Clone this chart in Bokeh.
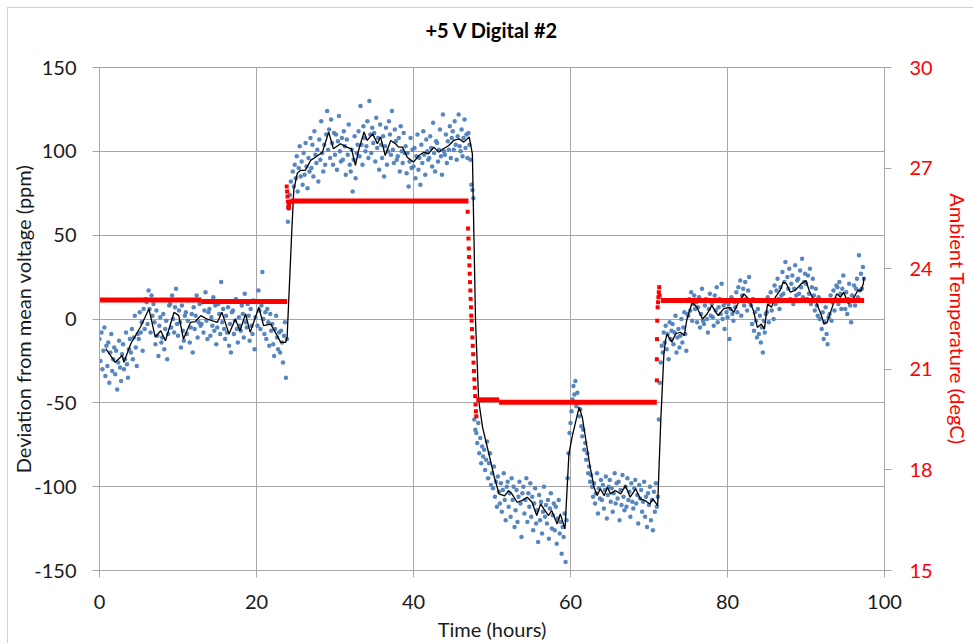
from bokeh.embed import file_html
from bokeh.models import FixedTicker, LinearAxis, PrintfTickFormatter, Range1d, Title
from bokeh.plotting import figure
from bokeh.resources import INLINE

FONT = "Lato"
GRID = "#a6a6a6"
BLUE = "#4f81bd"
RED = "#ff0000"
INK = "#1a1a1a"

TITLE = "+5 V Digital #2"
x_ticks = [0, 20, 40, 60, 80, 100]
dev_ticks = [-150, -100, -50, 0, 50, 100, 150]
temp_ticks = [15, 18, 21, 24, 27, 30]

# Deviation from mean voltage, ppm: 8 readings per hour, one hour per line
SAMPLES_PER_HOUR = 8
dev_ppm = [
    -12, -25, -8, -30, -19, -5, -34, -16,
    -28, -14, -38, -20, -9, -31, -24, -17,
    -33, -19, -42, -26, -13, -29, -37, -21,
    -15, -30, -24, -8, -27, -35, -18, -12,
    -20, -6, -24, -11, 2, -17, -28, -9,
    -12, 4, -8, -2, -19, 6, -6, 12,
    10, -3, 17, 6, -8, 14, 2, 9,
    -2, -15, 5, -10, -22, -4, 1, -14,
    -11, 3, -18, -6, -1, -24, -9, 8,
    9, -5, 14, 0, -8, 7, 18, -3,
    -10, 5, -2, -17, 8, -7, -13, 2,
    4, -9, -1, 11, -14, -5, 3, -20,
    7, -6, 2, 14, -11, -2, 9, -4,
    -3, 10, -8, 5, 16, -1, -12, 4,
    6, -10, 1, -4, 13, -7, 8, -15,
    -5, 9, 3, -9, 22, -2, 6, -6,
    -12, 2, -8, 7, -16, -3, -20, 4,
    5, -9, -1, 12, -6, -14, 1, -4,
    -7, 8, 3, -11, 15, -2, -5, 9,
    2, -13, 6, -4, -9, 11, -18, 1,
    10, -4, 17, 5, -6, 8, 28, 0,
    -9, 4, -12, 6, -2, -16, 3, -7,
    -3, -15, -22, -6, 2, -11, -18, -8,
    -20, -7, -14, -26, -10, -2, -35, -12,
    58, 66, 74, 82, 70, 88, 79, 92,
    84, 97, 76, 90, 103, 85, 94, 80,
    99, 86, 105, 91, 78, 96, 88, 108,
    90, 104, 85, 112, 98, 93, 101, 82,
    107, 95, 118, 99, 88, 104, 92, 110,
    124, 101, 113, 96, 119, 105, 92, 111,
    98, 110, 89, 106, 121, 100, 94, 108,
    95, 112, 103, 86, 107, 98, 116, 92,
    88, 101, 76, 95, 109, 84, 99, 104,
    112, 97, 127, 104, 92, 115, 108, 100,
    103, 118, 96, 130, 110, 99, 114, 105,
    111, 94, 120, 102, 108, 89, 116, 104,
    96, 109, 85, 103, 114, 92, 100, 118,
    110, 98, 124, 101, 93, 113, 106, 95,
    97, 108, 88, 115, 100, 93, 111, 99,
    103, 87, 99, 79, 94, 108, 90, 101,
    91, 102, 84, 97, 110, 89, 96, 80,
    104, 93, 112, 98, 86, 107, 100, 95,
    96, 109, 102, 91, 117, 99, 88, 106,
    105, 94, 101, 113, 97, 86, 122, 100,
    98, 110, 93, 106, 101, 115, 96, 108,
    112, 101, 118, 104, 95, 109, 122, 103,
    100, 113, 97, 108, 119, 102, 110, 96,
    111, 104, 95, 80, 77, 72, -60, -66,
    -68, -74, -62, -80, -71, -86, -76, -82,
    -78, -90, -84, -73, -95, -86, -80, -99,
    -92, -101, -88, -106, -97, -112, -94, -103,
    -110, -98, -115, -102, -92, -108, -120, -100,
    -97, -112, -104, -118, -95, -108, -100, -124,
    -114, -102, -121, -106, -97, -110, -130, -104,
    -100, -116, -108, -95, -121, -104, -112, -98,
    -118, -106, -126, -110, -101, -122, -114, -133,
    -105, -120, -109, -128, -115, -100, -118, -111,
    -122, -108, -131, -113, -104, -125, -117, -110,
    -126, -112, -134, -119, -108, -128, -121, -140,
    -124, -130, -116, -145, -120, -95, -80, -68,
    -62, -55, -48, -40, -45, -37, -52, -44,
    -50, -58, -54, -64, -70, -66, -78, -74,
    -84, -80, -92, -88, -97, -93, -100, -106,
    -98, -110, -104, -92, -116, -101, -107, -96,
    -108, -99, -113, -102, -94, -119, -105, -100,
    -96, -109, -101, -115, -104, -92, -110, -98,
    -107, -97, -120, -102, -111, -93, -106, -114,
    -100, -112, -95, -108, -103, -118, -98, -109,
    -113, -101, -96, -110, -105, -122, -99, -107,
    -102, -115, -109, -97, -118, -106, -124, -104,
    -111, -100, -120, -108, -126, -103, -115, -98,
    -112, -106, -60, -38, -26, -16, -20, -8,
    -14, -4, -18, -9, -24, -2, -12, -7,
    -3, -15, -8, 2, -20, -11, -6, -17,
    -10, 0, -14, -5, 4, -9, -19, 3,
    2, 12, 5, 16, -1, 9, 14, 6,
    10, -2, 7, 13, -5, 3, 18, -1,
    -3, 8, 12, 0, -8, 6, 15, 2,
    9, 1, -4, 14, 5, 19, -2, 7,
    12, 3, 21, 0, 8, -6, 10, 4,
    1, 9, -12, 6, 13, 3, -1, 10,
    7, 16, 4, 19, 11, 23, 2, 14,
    18, 8, 22, 12, 5, 17, 25, 10,
    8, -3, 12, -7, 4, -1, -11, 6,
    -9, 2, -14, -5, -20, -1, -8, 3,
    4, 13, -2, 10, 16, 5, 11, 0,
    20, 9, 17, 24, 12, 6, 19, 14,
    28, 15, 22, 34, 11, 25, 18, 30,
    12, 21, 26, 9, 18, 32, 14, 23,
    24, 15, 29, 19, 36, 13, 22, 27,
    21, 12, 26, 15, 30, 9, 19, 24,
    14, 5, 18, 8, 2, 13, 0, 11,
    -6, 4, -12, -2, 7, -9, -15, 1,
    3, 14, -1, 10, 17, 5, 12, 20,
    19, 9, 22, 15, 6, 18, 26, 11,
    6, 16, 3, 12, 21, 8, -2, 14,
    11, 20, 8, 18, 24, 13, 38, 17,
    27, 18, 31, 24,
]
sample_hours = [i / SAMPLES_PER_HOUR for i in range(len(dev_ppm))]

# Running mean of the deviation, ppm
trend_hours = [
    0.8, 2.0, 2.9, 3.1, 4.0, 5.2, 6.3, 7.1, 7.8, 8.4, 9.5, 10.1, 10.7, 11.6,
    12.2, 12.9, 13.7, 15.0, 15.6, 16.5, 17.3, 17.9, 18.6, 19.2, 20.3, 20.9,
    21.8, 22.4, 23.1, 23.7, 23.9, 24.5, 24.75, 25.2, 25.6, 26.2, 26.9, 27.5,
    28.4, 29.2, 29.8, 30.7, 31.5, 32.1, 32.6, 33.0, 33.7, 34.1, 34.8, 35.4,
    35.8, 36.4, 37.1, 37.7, 38.1, 38.6, 39.2, 40.0, 40.7, 41.3, 41.9, 42.6,
    43.2, 43.8, 44.5, 45.1, 45.8, 46.4, 47.1, 47.5, 47.7, 47.9, 48.3, 48.8,
    49.4, 49.8, 50.3, 50.9, 51.6, 52.1, 52.5, 53.2, 53.8, 54.5, 55.1, 55.7,
    56.2, 56.6, 57.2, 57.6, 58.3, 58.7, 59.3, 59.8, 60.2, 60.7, 61.1, 61.5,
    62.1, 62.5, 63.0, 63.4, 63.8, 64.3, 64.7, 65.1, 65.7, 66.4, 67.0, 67.6,
    68.3, 68.9, 69.5, 70.1, 70.5, 71.1, 71.5, 71.9, 72.1, 72.3, 72.9, 73.4,
    74.0, 74.5, 74.8, 75.5, 76.1, 76.8, 77.4, 78.0, 78.8, 79.5, 80.2, 80.8,
    81.4, 82.1, 82.7, 83.3, 83.8, 84.3, 84.7, 85.1, 85.6, 86.1, 86.7, 87.1,
    87.5, 88.0, 88.6, 89.0, 89.4, 90.0, 90.4, 90.8, 91.2, 91.9, 92.3, 92.7,
    93.2, 93.9, 94.4, 94.8, 95.4, 96.0, 96.6, 97.0, 97.3, 97.4,
]
trend_ppm = [
    -17.6, -25.8, -21.8, -25.8, -14.6, -4.9, 6, -10.8, -7, -13, 4, 2, -12, -2,
    -1.5, 2, 0, -2, 4, -9, 0, -7, 3, -8, 7, -4,
    -3, -8, -14, -14, -11, 53, 77, 87, 88.6, 88.6, 94.6, 96.5,
    99.5, 111.5, 101.5, 104.5, 102.5, 101.5, 91.6, 100.5, 111.5, 106.5, 110.4, 104.5,
    108.5, 97.5, 106.5, 104.5, 102.5, 102.5, 96.5, 93.6, 97.5, 99.5, 98.5, 102.5,
    99.5, 101.5, 103.5, 106.5, 107.5, 105.5, 108.5, 98.5, 49, -1, -48.6, -64.6,
    -76.5, -84.4, -94.4, -104.3, -105.5, -102.3, -104, -109.3, -108.3, -106.3, -109.3, -117.2,
    -110.3, -113.3, -117.2, -114.2, -122.2, -116.2, -125.2, -80.4, -70.5, -60.5, -52.6, -58.5,
    -76.5, -88.4, -100.3, -105.3, -101.3, -105.3, -100.3, -104.3, -102.3, -104.3, -99.3, -106.3,
    -101.3, -107.3, -108.3, -110.3, -107.3, -111.3, -60.5, -20.7, -12.8, -9, -13.8, -8.8,
    -7.9, -9.8, -0.9, 10, 7, 0, 3, 8, 2, 6, 7, 4,
    10, 15, 12, 5, -5, -3, -6, 9, 7, 13, 17, 22,
    21, 16, 17, 19, 21, 23, 17, 13, 11, 3, -3, -2,
    5, 15, 13, 16, 9, 12, 17, 17, 21, 25,
]

# Ambient temperature, degC: steady levels (start hour, end hour, value)
temp_level_start = [0.0, 13.0, 24.3, 48.0, 50.9, 71.5]
temp_level_end = [13.0, 23.9, 47.0, 50.9, 71.0, 97.4]
temp_level_degc = [23.07, 23.02, 26.02, 20.09, 20.02, 23.05]

# Ambient temperature readings taken while the chamber was changing
temp_step_hours = [
    23.85, 23.9, 23.95, 24.0, 24.05, 24.1, 24.15, 24.2,
    46.9, 46.95, 47.0, 47.04, 47.08, 47.12, 47.16, 47.2, 47.24, 47.28, 47.32, 47.36,
    47.4, 47.45, 47.5, 47.55, 47.6, 47.65, 47.7, 47.75, 47.8, 47.85, 47.9, 47.95, 48.0,
    71.0, 71.0, 71.02, 71.05, 71.1, 71.15, 71.2, 71.25, 71.3, 71.35,
]
temp_step_degc = [
    26.45, 26.3, 26.15, 26.0, 25.85, 25.8, 25.9, 26.0,
    25.7, 25.2, 24.9, 24.6, 24.35, 24.1, 23.85, 23.6, 23.35, 23.1, 22.85, 22.6,
    22.45, 22.2, 21.95, 21.7, 21.45, 21.2, 20.95, 20.7, 20.45, 20.2, 19.95, 19.75, 19.6,
    20.67, 21.3, 21.9, 22.45, 22.85, 23.0, 23.15, 23.3, 23.45, 23.2,
]

p = figure(
    width=966, height=636,
    x_range=Range1d(0, 100), y_range=Range1d(-150, 150),
    output_backend="svg", toolbar_location=None,
    min_border_left=91, min_border_right=90, min_border_top=59, min_border_bottom=74,
    title=None,
)
p.margin = (7, 0, 0, 7)
p.styles = {"border-left": "1px solid #d0d0d0", "border-top": "1px solid #d0d0d0"}
p.extra_y_ranges = {"temp": Range1d(15, 30)}
p.background_fill_color = "white"
p.border_fill_color = "white"
p.outline_line_color = GRID

# blank band between the plot area and the chart title
p.add_layout(Title(text=" ", text_font_size="17px", standoff=0), "above")
p.add_layout(Title(
    text=TITLE, align="center", text_font=FONT, text_font_size="20px",
    text_font_style="bold", text_color="black",
), "above")

temp_axis = LinearAxis(y_range_name="temp", axis_label="Ambient Temperature (degC)")
p.add_layout(temp_axis, "right")

p.xaxis.axis_label = "Time (hours)"
p.yaxis[0].axis_label = "Deviation from mean voltage (ppm)"
p.xaxis.ticker = FixedTicker(ticks=x_ticks)
p.yaxis[0].ticker = FixedTicker(ticks=dev_ticks)
p.yaxis[0].formatter = PrintfTickFormatter(format="%d")
temp_axis.ticker = FixedTicker(ticks=temp_ticks)

for ax in [p.xaxis[0], p.yaxis[0], temp_axis]:
    ax.axis_line_color = GRID
    ax.major_tick_line_color = GRID
    ax.major_tick_out = 7
    ax.major_tick_in = 0
    ax.minor_tick_line_color = None
    ax.major_label_text_font = FONT
    ax.major_label_text_font_size = "20px"
    ax.major_label_text_color = INK
    ax.axis_label_text_font = FONT
    ax.axis_label_text_font_size = "20px"
    ax.axis_label_text_font_style = "normal"
    ax.axis_label_text_color = INK

p.yaxis[0].major_label_standoff = 16
p.yaxis[0].axis_label_standoff = -4
p.xaxis.major_label_standoff = 17
p.xaxis.axis_label_standoff = 5
temp_axis.major_label_standoff = 18
temp_axis.major_label_text_color = RED
temp_axis.axis_label_text_color = RED
temp_axis.axis_label_standoff = 10

p.xgrid.ticker = FixedTicker(ticks=x_ticks)
p.ygrid.ticker = FixedTicker(ticks=dev_ticks)
p.grid.grid_line_color = GRID
p.grid.grid_line_width = 1

p.scatter(sample_hours, dev_ppm, marker="circle", size=4.5, fill_color=BLUE,
          line_color=None, fill_alpha=0.95)
p.line(trend_hours, trend_ppm, line_color="black", line_width=1.3)

p.segment(x0=temp_level_start, y0=temp_level_degc, x1=temp_level_end, y1=temp_level_degc,
          line_color=RED, line_width=5, y_range_name="temp")
p.scatter(temp_step_hours, temp_step_degc, marker="square", size=4, fill_color=RED,
          line_color=None, y_range_name="temp")

open("out.html", "w").write(file_html(p, INLINE))
